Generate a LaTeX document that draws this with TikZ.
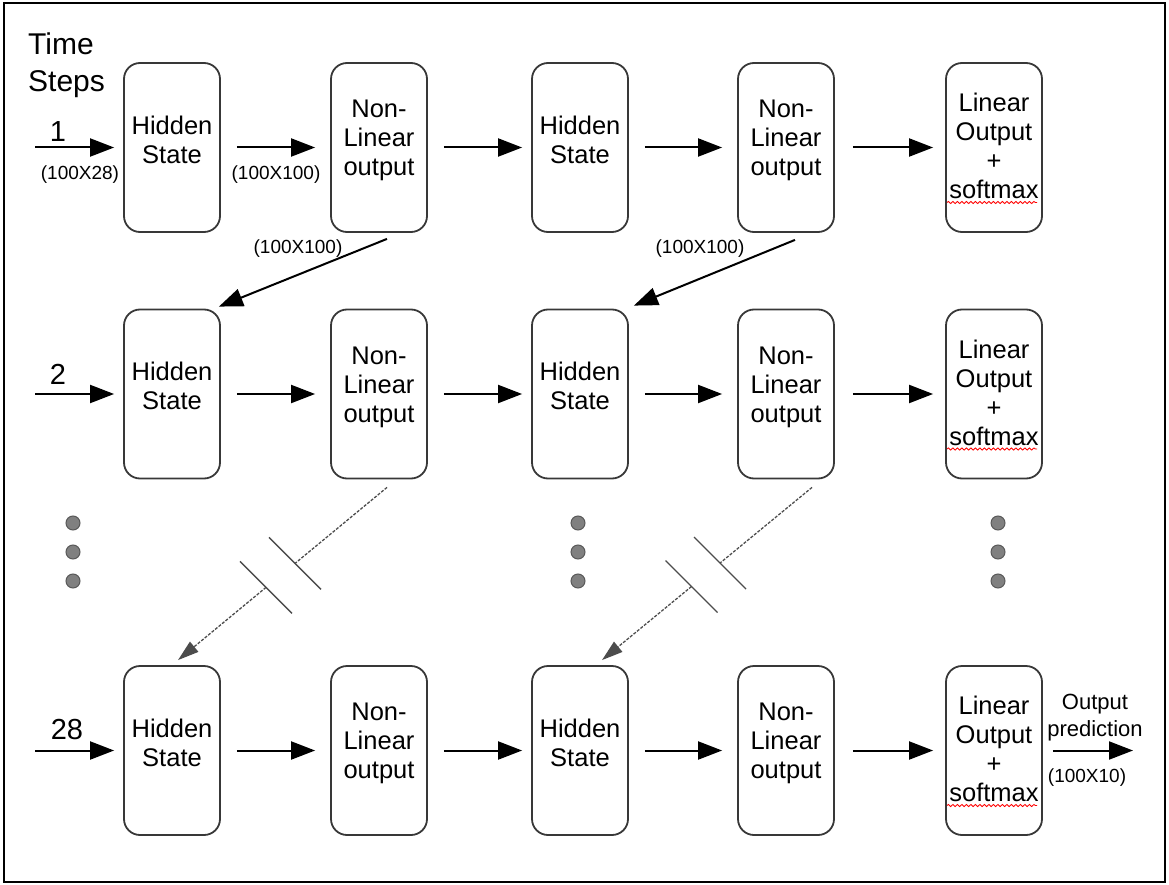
\documentclass[tikz,border=0pt]{standalone}
\usepackage{fontspec}
\setmainfont{Liberation Sans}
\usetikzlibrary{arrows.meta,calc,decorations.pathmorphing}

\begin{document}
\begin{tikzpicture}[x=1pt,y=-1pt,
  cell/.style={draw=black!78, line width=1.8pt, rounded corners=16pt,
    minimum width=96pt, minimum height=169pt, inner sep=0pt},
  celltext/.style={align=center, inner sep=0pt, font=\fontsize{25.5}{29}\selectfont},
  dimlbl/.style={inner sep=0pt, font=\fontsize{19}{21}\selectfont},
  steplbl/.style={inner sep=0pt, font=\fontsize{29}{32}\selectfont},
  flow/.style={line width=2pt, -{Triangle[length=24pt,width=18pt]}},
  skipline/.style={line width=1.3pt, black!70, dash pattern=on 3pt off 1.5pt},
  skiparrow/.style={skipline, -{Triangle[length=21pt,width=13pt]}},
  breakmark/.style={line width=1.3pt, black!70},
  squiggle/.style={red, line width=0.8pt, decorate,
    decoration={snake, amplitude=1.1pt, segment length=4.5pt}},
  ellip/.style={fill=black!50, draw=black!65, line width=1pt}
]
\useasboundingbox (0,0) rectangle (1169,885);
\draw[line width=2.8pt] (4,3) rectangle (1165,882);

% heading
\node[anchor=north west, inner sep=0pt, align=left,
      font=\fontsize{30}{37}\selectfont] (ts) at (28,32.5) {Time\\Steps};

% three unrolled rows of cells
\foreach \r/\y in {1/147.5, 2/394, 3/750.5} {
  \node[cell] (h\r-1) at (172,\y) {};
  \node[cell] (n\r-1) at (379,\y) {};
  \node[cell] (h\r-2) at (580,\y) {};
  \node[cell] (n\r-2) at (786,\y) {};
  \node[cell] (o\r)   at (994,\y) {};
  \node[celltext] (th\r-1) at ([yshift=8pt]h\r-1.center) {Hidden\\State};
  \node[celltext] (tn\r-1) at ([yshift=7pt]n\r-1.center) {Non-\\Linear\\output};
  \node[celltext] (th\r-2) at ([yshift=8pt]h\r-2.center) {Hidden\\State};
  \node[celltext] (tn\r-2) at ([yshift=7pt]n\r-2.center) {Non-\\Linear\\output};
  \node[celltext] (to\r)   at ([yshift=1.5pt]o\r.center) {Linear\\Output\\+\\softmax};
  \draw[squiggle] ([shift={(-47,55)}]o\r.center) -- ([shift={(43,55)}]o\r.center);
  \coordinate (in\r) at (35,\y);
  \draw[flow] (in\r) -- ([xshift=-9pt]h\r-1.west);
  \draw[flow] ([xshift=16pt]h\r-1.east) -- ([xshift=-15pt]n\r-1.west);
  \draw[flow] ([xshift=16pt]n\r-1.east) -- ([xshift=-9pt]h\r-2.west);
  \draw[flow] ([xshift=16pt]h\r-2.east) -- ([xshift=-15pt]n\r-2.west);
  \draw[flow] ([xshift=18pt]n\r-2.east) -- ([xshift=-12pt]o\r.west);
}

% time step labels
\node[steplbl, anchor=base] (k1) at (58,142) {1};
\node[steplbl, anchor=base] (k2) at (58,384) {2};
\node[steplbl, anchor=base] (k28) at (67,739) {28};

% dimension labels
\node[dimlbl] (d1) at (80,174.5) {(100X28)};
\node[dimlbl] (d2) at (276,174.5) {(100X100)};
\node[dimlbl] (d3) at (298,249) {(100X100)};
\node[dimlbl] (d4) at (700,249) {(100X100)};
\node[dimlbl] (d5) at (1087,778) {(100X10)};

% recurrence from row 1 to row 2
\draw[flow] ([shift={(8,6)}]n1-1.south) -- ([shift={(-2,-2)}]h2-1.north east);
\draw[flow] ([shift={(9,7)}]n1-2.south) -- ([shift={(5,-3)}]h2-2.north east);

% skipped recurrences from row 2 to row 28
\coordinate (a1) at ([shift={(8,8)}]n2-1.south);
\coordinate (b1) at ([shift={(6,-5)}]h3-1.north);
\coordinate (a2) at ([shift={(26,8)}]n2-2.south);
\coordinate (b2) at ([shift={(22,-5)}]h3-2.north);
\coordinate (m1) at ($(a1)!0.44!(b1)$);
\coordinate (m2) at ($(a1)!0.579!(b1)$);
\coordinate (m3) at ($(a2)!0.438!(b2)$);
\coordinate (m4) at ($(a2)!0.574!(b2)$);
\draw[skipline] (a1) -- (m1);
\draw[skiparrow] (m2) -- (b1);
\draw[skipline] (a2) -- (m3);
\draw[skiparrow] (m4) -- (b2);
\foreach \m in {m1,m2,m3,m4}
  \draw[breakmark] ($(\m)+(-26,-26)$) -- ($(\m)+(26,26)$);

% ellipsis dots
\foreach \x in {73,578,998}
  \foreach \yy in {523,552,581}
    \filldraw[ellip] (\x,\yy) circle (7);

% final output
\coordinate (outend) at (1133,750.5);
\draw[flow] ([xshift=10pt]o3.east) -- (outend);
\node[align=center, inner sep=0pt, font=\fontsize{22}{27}\selectfont] (op) at (1095,718) {Output\\prediction};
\end{tikzpicture}
\end{document}
